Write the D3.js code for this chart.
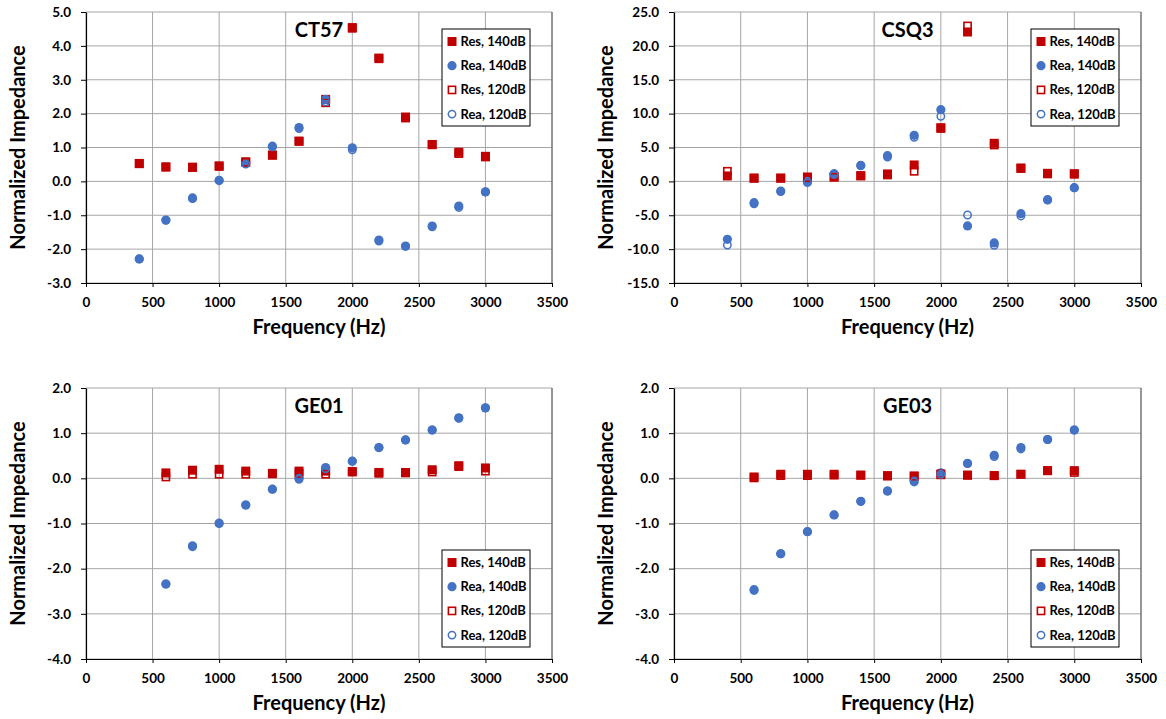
<!DOCTYPE html>
<html>
<head>
<meta charset="utf-8">
<script src="https://cdn.jsdelivr.net/npm/d3@7.9.0/dist/d3.min.js"></script>
<style>
  body { margin: 0; background: #fff; }
  svg { font-family: Lato, "Open Sans", sans-serif; font-weight: 700; }
</style>
</head>
<body>
<div id="chart"></div>
<script>
// frequencies (Hz)
const freqsCT = [400, 600, 800, 1000, 1200, 1400, 1600, 1800, 2000, 2200, 2400, 2600, 2800, 3000];
const freqsGE = [600, 800, 1000, 1200, 1400, 1600, 1800, 2000, 2200, 2400, 2600, 2800, 3000];

// CT57
const ct57Res140 = [0.53, 0.43, 0.42, 0.46, 0.58, 0.78, 1.19, 2.42, 4.54, 3.64, 1.90, 1.09, 0.86, 0.74];
const ct57Rea140 = [-2.29, -1.14, -0.49, 0.03, 0.54, 1.04, 1.59, 2.42, 0.99, -1.73, -1.91, -1.32, -0.73, -0.31];
const ct57Res120 = [0.52, 0.42, 0.41, 0.44, 0.56, 0.77, 1.18, 2.32, 4.52, 3.62, 1.87, 1.08, 0.82, 0.72];
const ct57Rea120 = [-2.29, -1.15, -0.51, 0.02, 0.51, 1.02, 1.56, 2.35, 0.93, -1.76, -1.92, -1.34, -0.77, -0.31];

// CSQ3
const csq3Res140 = [0.8, 0.5, 0.5, 0.65, 0.7, 0.85, 1.1, 2.42, 7.93, 22.05, 5.62, 1.98, 1.19, 1.14];
const csq3Rea140 = [-8.55, -3.14, -1.42, 0.0, 1.14, 2.37, 3.79, 6.8, 10.58, -6.58, -9.09, -4.77, -2.7, -0.93];
const csq3Res120 = [1.49, 0.45, 0.45, 0.55, 0.6, 0.8, 0.95, 1.49, 7.8, 22.94, 5.37, 1.9, 1.1, 1.05];
const csq3Rea120 = [-9.39, -3.3, -1.5, -0.19, 0.99, 2.3, 3.6, 6.5, 9.6, -4.96, -9.43, -5.1, -2.75, -0.95];

// GE01
const ge01Res140 = [0.12, 0.18, 0.20, 0.16, 0.11, 0.16, 0.16, 0.15, 0.13, 0.13, 0.19, 0.28, 0.23];
const ge01Rea140 = [-2.34, -1.51, -1.0, -0.59, -0.24, 0.0, 0.24, 0.38, 0.68, 0.85, 1.07, 1.34, 1.56];
const ge01Res120 = [0.03, 0.09, 0.09, 0.09, 0.10, 0.11, 0.09, 0.14, 0.11, 0.12, 0.14, 0.26, 0.16];
const ge01Rea120 = [-2.34, -1.49, -0.99, -0.59, -0.24, -0.02, 0.21, 0.38, 0.68, 0.85, 1.07, 1.33, 1.56];

// GE03
const ge03Res140 = [0.03, 0.09, 0.09, 0.09, 0.07, 0.06, 0.05, 0.08, 0.07, 0.06, 0.09, 0.17, 0.17];
const ge03Rea140 = [-2.48, -1.67, -1.18, -0.81, -0.51, -0.28, -0.06, 0.12, 0.33, 0.51, 0.68, 0.86, 1.07];
const ge03Res120 = [0.01, 0.06, 0.06, 0.07, 0.07, 0.05, 0.05, 0.10, 0.07, 0.06, 0.09, 0.17, 0.13];
const ge03Rea120 = [-2.46, -1.67, -1.18, -0.81, -0.51, -0.28, -0.08, 0.09, 0.33, 0.48, 0.65, 0.86, 1.07];

const xTicks = [0, 500, 1000, 1500, 2000, 2500, 3000, 3500];
const seriesNames = ["Res, 140dB", "Rea, 140dB", "Res, 120dB", "Rea, 120dB"];

const RED = "#C00000";
const BLUE = "#4472C4";

// plain hyphen for negative numbers, like the original
const locale = d3.formatLocale({ decimal: ".", thousands: ",", grouping: [3], currency: ["", ""], minus: "-" });
const fmt1 = locale.format(".1f");

const panels = [
  { title: "CT57", x: freqsCT, series: [ct57Res140, ct57Rea140, ct57Res120, ct57Rea120],
    yDomain: [-3, 5], yStep: 1,
    box: { left: 86, right: 552, top: 12, bottom: 283 }, legendTop: true },
  { title: "CSQ3", x: freqsCT, series: [csq3Res140, csq3Rea140, csq3Res120, csq3Rea120],
    yDomain: [-15, 25], yStep: 5,
    box: { left: 674, right: 1141, top: 12, bottom: 283 }, legendTop: true },
  { title: "GE01", x: freqsGE, series: [ge01Res140, ge01Rea140, ge01Res120, ge01Rea120],
    yDomain: [-4, 2], yStep: 1,
    box: { left: 86, right: 552, top: 388, bottom: 659 }, legendTop: false },
  { title: "GE03", x: freqsGE, series: [ge03Res140, ge03Rea140, ge03Res120, ge03Rea120],
    yDomain: [-4, 2], yStep: 1,
    box: { left: 674, right: 1141, top: 388, bottom: 659 }, legendTop: false }
];

const width = 1166;
const height = 719;

const svg = d3.select("#chart")
  .append("svg")
  .attr("width", width)
  .attr("height", height);

// marker drawing: 0 = filled square, 1 = filled circle, 2 = open square, 3 = open circle
function drawMarker(g, kind, cx, cy) {
  const s = 9;
  if (kind === 0) {
    g.append("rect").attr("x", cx - s / 2).attr("y", cy - s / 2)
      .attr("width", s).attr("height", s).attr("fill", RED);
  } else if (kind === 1) {
    g.append("circle").attr("cx", cx).attr("cy", cy).attr("r", 4.6).attr("fill", BLUE);
  } else if (kind === 2) {
    g.append("rect").attr("x", cx - 3.6).attr("y", cy - 3.6)
      .attr("width", 7.2).attr("height", 7.2)
      .attr("fill", "none").attr("stroke", RED).attr("stroke-width", 1.6);
  } else {
    g.append("circle").attr("cx", cx).attr("cy", cy).attr("r", 3.7)
      .attr("fill", "none").attr("stroke", BLUE).attr("stroke-width", 1.5);
  }
}

panels.forEach((p) => {
  const b = p.box;
  const x = d3.scaleLinear().domain([0, 3500]).range([b.left, b.right]);
  const y = d3.scaleLinear().domain(p.yDomain).range([b.bottom, b.top]);
  const yTicks = d3.range(p.yDomain[0], p.yDomain[1] + p.yStep / 2, p.yStep);

  const g = svg.append("g");

  // grid
  g.append("g").selectAll("line.h")
    .data(yTicks)
    .join("line")
    .attr("x1", b.left).attr("x2", b.right)
    .attr("y1", (d) => y(d)).attr("y2", (d) => y(d))
    .attr("stroke", "#A6A6A6").attr("stroke-width", 1);
  g.append("g").selectAll("line.v")
    .data(xTicks)
    .join("line")
    .attr("y1", b.top).attr("y2", b.bottom)
    .attr("x1", (d) => x(d)).attr("x2", (d) => x(d))
    .attr("stroke", "#A6A6A6").attr("stroke-width", 1);

  // plot border on the right
  g.append("line")
    .attr("x1", b.right).attr("x2", b.right)
    .attr("y1", b.top).attr("y2", b.bottom)
    .attr("stroke", "#595959");

  // axes
  const yAxis = g.append("g")
    .attr("transform", `translate(${b.left},0)`)
    .call(d3.axisLeft(y).tickValues(yTicks).tickFormat(fmt1).tickSize(5).tickSizeOuter(0).tickPadding(10));
  const xAxis = g.append("g")
    .attr("transform", `translate(0,${b.bottom})`)
    .call(d3.axisBottom(x).tickValues(xTicks).tickFormat(d3.format("d")).tickSize(4).tickSizeOuter(0).tickPadding(10));
  [yAxis, xAxis].forEach((a) => {
    a.select(".domain").attr("stroke", "#000").attr("stroke-width", 1.2);
    a.selectAll(".tick line").attr("stroke", "#000");
    a.selectAll("text")
      .attr("fill", "#000")
      .style("font-family", "Lato, sans-serif")
      .style("font-weight", 700)
      .style("font-size", "13.5px");
  });

  // axis titles
  g.append("text")
    .attr("x", (b.left + b.right) / 2)
    .attr("y", b.bottom + 51)
    .attr("text-anchor", "middle")
    .style("font-size", "20px")
    .text("Frequency (Hz)");
  g.append("text")
    .attr("transform", `translate(${b.left - 61},${(b.top + b.bottom) / 2}) rotate(-90)`)
    .attr("text-anchor", "middle")
    .style("font-size", "20px")
    .text("Normalized Impedance");

  // chart title
  g.append("text")
    .attr("x", (b.left + b.right) / 2)
    .attr("y", b.top + 25)
    .attr("text-anchor", "middle")
    .style("font-size", "20px")
    .text(p.title);

  // points
  const pts = g.append("g");
  p.series.forEach((vals, k) => {
    vals.forEach((v, i) => drawMarker(pts, k, x(p.x[i]), y(v)));
  });

  // legend
  const lx = b.right - 110;
  const ly = p.legendTop ? b.top + 17 : b.bottom - 109;
  const leg = g.append("g");
  leg.append("rect")
    .attr("x", lx).attr("y", ly)
    .attr("width", 88).attr("height", 97)
    .attr("fill", "#fff").attr("stroke", "#000").attr("stroke-width", 1);
  seriesNames.forEach((name, k) => {
    const cy = ly + 12.5 + k * 24.2;
    drawMarker(leg, k, lx + 10, cy);
    leg.append("text")
      .attr("x", lx + 18.5)
      .attr("y", cy)
      .attr("dy", "0.35em")
      .style("font-size", "13px")
      .text(name);
  });
});
</script>
</body>
</html>
